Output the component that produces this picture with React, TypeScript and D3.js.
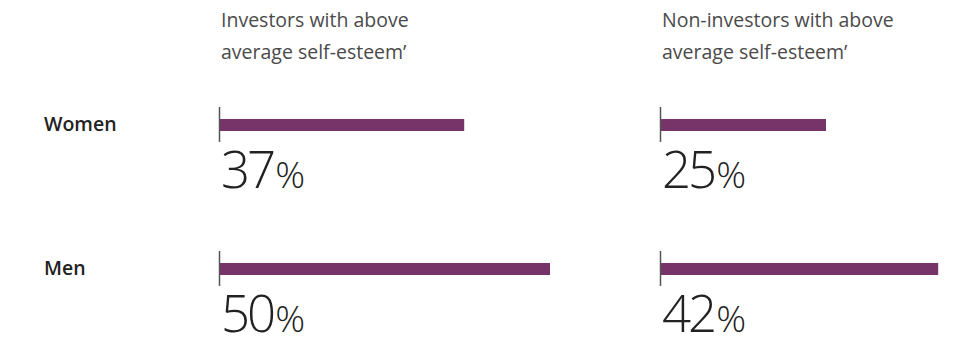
import React from "react";
import * as d3 from "d3";

const panelTitles: string[][] = [
  ["Investors with above", "average self-esteem’"],
  ["Non-investors with above", "average self-esteem’"],
];
const rowLabels = ["Women", "Men"];
const investorValues = [37, 50];
const nonInvestorValues = [25, 42];

const W = 967;
const H = 342;

export default function App() {
  const series = [investorValues, nonInvestorValues];
  const panelX = d3.scaleOrdinal<number, number>().domain([0, 1]).range([220, 661]);
  const x = d3.scaleLinear().domain([0, 50]).range([0, 330]);
  const y = d3.scalePoint<string>().domain(rowLabels).range([125, 269]);

  const barColor = "#773468";
  const font = "'Open Sans', sans-serif";

  return (
    <svg
      width={W}
      height={H}
      style={{ position: "absolute", left: 0, top: 0, background: "#fff" }}
    >
      {panelTitles.map((lines, p) => (
        <text key={"t" + p} x={panelX(p) + 1} y={26.5} fill="#4a4a4a" fontFamily={font} fontSize={19.5}>
          {lines.map((l, k) => (
            <tspan key={k} x={panelX(p) + 1} dy={k === 0 ? 0 : 32}>
              {l}
            </tspan>
          ))}
        </text>
      ))}
      {rowLabels.map((r) => (
        <text
          key={r}
          x={44}
          y={(y(r) as number) + 5.5}
          fill="#222"
          fontFamily={font}
          fontWeight={600}
          fontSize={19.5}
        >
          {r}
        </text>
      ))}
      {series.map((vals, p) =>
        rowLabels.map((r, i) => {
          const cy = y(r) as number;
          const x0 = panelX(p);
          return (
            <g key={p + "-" + i}>
              <rect x={x0} y={cy - 6} width={x(vals[i])} height={12} fill={barColor} />
              <line x1={x0 - 0.5} x2={x0 - 0.5} y1={cy - 18} y2={cy + 17} stroke="#555" strokeWidth={1.5} />
              <text x={x0 + 1} y={cy + 63} fill="#222" fontFamily={font} fontWeight={300}>
                <tspan fontSize={51} letterSpacing={-3}>{vals[i]}</tspan>
                <tspan fontSize={37} dx={2}>%</tspan>
              </text>
            </g>
          );
        })
      )}
    </svg>
  );
}
